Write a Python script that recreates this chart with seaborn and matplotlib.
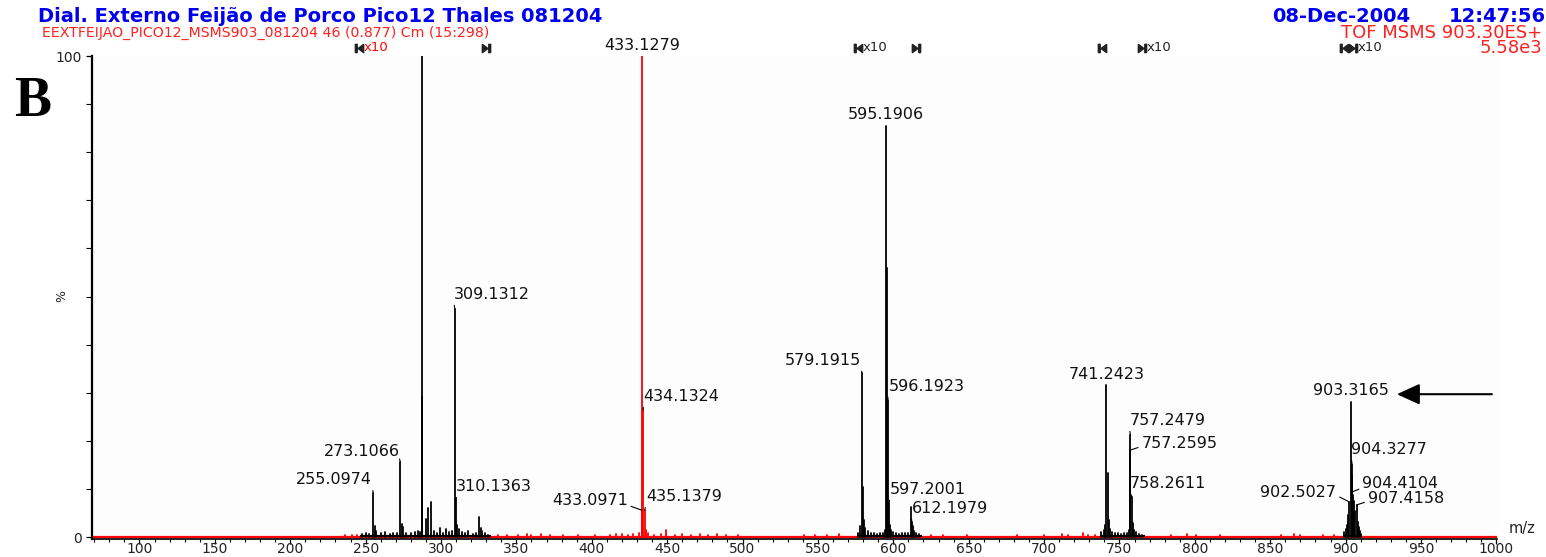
import numpy as np
import pandas as pd
import matplotlib
matplotlib.use("Agg")
import matplotlib.pyplot as plt
from matplotlib.path import Path
from matplotlib.ticker import MultipleLocator, FixedLocator
import seaborn as sns

# peaks drawn at normal gain (red)
red_mz = [236, 241, 244, 338, 344, 351, 357, 360, 366, 372, 381, 391, 402, 412, 416,
          420, 424, 427, 431, 433.0971, 433.1279, 434.1324, 435.1379, 436, 437, 441,
          446, 449, 455, 460, 466, 472, 477, 483, 489, 497, 541, 548, 556, 564, 625,
          633, 649, 682, 700, 712, 716, 726, 729, 734, 784, 795, 801, 817, 857, 866,
          870, 885, 892]
red_pct = [0.4, 0.5, 0.5, 0.4, 0.5, 0.4, 0.6, 0.5, 0.7, 0.4, 0.4, 0.5, 0.4, 0.5, 0.6,
           0.7, 0.5, 0.6, 0.8, 5.6, 100, 26.4, 5.6, 1.5, 0.8, 0.5,
           0.6, 1.5, 0.5, 0.6, 0.5, 0.7, 0.5, 0.6, 0.5, 0.4, 0.4, 0.5, 0.4, 0.6, 0.4,
           0.5, 0.4, 0.5, 0.4, 0.6, 0.5, 0.8, 0.5, 0.4, 0.4, 0.6, 0.4, 0.5, 0.4, 0.6,
           0.4, 0.5, 0.4]

# peaks inside the x10 windows (black)
blk_mz = [247.5, 250, 252, 255.0974, 256.1, 257, 260, 263, 266, 268, 271, 273.1066,
          274.1, 275.1, 277, 280, 283, 285, 286.3, 287.1, 287.6, 289.9, 291.6, 293.4,
          295.5, 297, 299.1, 301, 303, 305, 307.5, 309.1312, 310.1363, 310.8, 312, 314,
          316, 318, 321, 323.5, 325.4, 326.4, 327.5, 329, 331,
          576.5, 577.8, 579.1915, 580.19, 580.8, 581.5, 583, 585, 587, 589, 591, 593,
          594.4, 595.1906, 595.6, 596.1923, 597.2001, 597.8, 598.6, 600, 602, 604, 606,
          608, 610, 611.8, 612.1979, 612.8, 613.6, 615, 617,
          738, 739.5, 740.5, 741.2423, 742.2, 742.8, 743.6, 745, 747, 749, 751, 753,
          755, 756.4, 757.2479, 757.2595, 758.2611, 758.8, 759.6, 761, 763, 765,
          899, 900, 901, 901.8, 902.5027, 903.3165, 903.9, 904.3277, 904.4104, 905,
          905.7, 906.4, 907.4158, 908, 908.8, 909.6, 910.5]
blk_pct = [0.6, 0.8, 0.7, 9.1, 2.2, 1.2, 0.8, 1.0, 0.7, 0.9, 0.8, 15.6,
           2.8, 2.0, 0.8, 0.9, 1.1, 1.3, 1.0, 100, 29.1, 3.8, 6.0, 7.3,
           1.2, 0.9, 1.9, 0.8, 1.6, 1.0, 1.3, 47.4, 8.1, 2.5, 1.6, 1.0,
           0.8, 1.2, 0.7, 0.9, 4.2, 1.8, 1.2, 0.8, 0.5,
           0.8, 2.2, 34.1, 10.4, 3.5, 1.8, 1.2, 0.8, 0.9, 0.7, 0.8, 0.9,
           1.5, 85.4, 56.0, 28.5, 7.1, 2.5, 1.5, 1.0, 0.8, 0.7, 0.8,
           0.8, 0.9, 6.2, 3.1, 2.2, 1.2, 0.8, 0.6,
           1.0, 1.5, 2.5, 31.6, 13.3, 3.5, 1.6, 1.0, 0.8, 0.8, 0.7, 0.9,
           0.8, 1.4, 21.2, 18.1, 8.3, 3.0, 1.5, 1.0, 0.7, 0.5,
           1.0, 1.6, 2.6, 4.5, 7.3, 28.1, 13.0, 15.0, 9.4, 8.8,
           7.5, 5.5, 6.7, 3.2, 2.0, 1.2, 0.7]

x10_windows = [(246, 333), (576, 619), (737, 767), (898, 911)]

# labelled peaks: text, m/z, % and label offset (pixels) / leader anchor
labels = [
    ("255.0974", 255.0974, 9.1, -39, 6, (1, 0)),
    ("273.1066", 273.1066, 15.6, -39, 3, (1, 0)),
    ("309.1312", 309.1312, 47.4, 37, 7, (0, 0)),
    ("310.1363", 310.1363, 8.1, 37, 4, (0, 0)),
    ("433.0971", 433.0971, 5.6, -52, 2, (1, 0.2)),
    ("434.1324", 434.1324, 26.4, 38, 6, (0, 0)),
    ("435.1379", 435.1379, 5.6, 39, 6, (0, 0)),
    ("579.1915", 579.1915, 34.1, -39, 5, (1, 0)),
    ("595.1906", 595.1906, 85.4, 0, 4, None),
    ("596.1923", 596.1923, 28.5, 39, 6, (0, 0)),
    ("597.2001", 597.2001, 7.1, 39, 6, (0, 0)),
    ("612.1979", 612.1979, 3.1, 38, 6, (0, 0)),
    ("741.2423", 741.2423, 31.6, 0, 3, None),
    ("757.2479", 757.2479, 21.2, 37, 7, (0, 0)),
    ("757.2595", 757.2595, 18.1, 49, -1, (0, 0.3)),
    ("758.2611", 758.2611, 8.3, 36, 6, (0, 0)),
    ("903.3165", 903.3165, 28.1, 0, 4, None),
    ("904.3277", 904.3277, 15.0, 37, 8, (0, 0)),
    ("904.4104", 904.4104, 9.4, 48, 1, (0, 0.2)),
    ("902.5027", 902.5027, 7.3, -51, 2, (1, 0.3)),
    ("907.4158", 907.4158, 6.7, 49, -1, (0, 0.3)),
]

# x10 window markers above the plot (start / end of each window)
win_start = [245.6, 576.5, 738.4, 898.8]
win_end = [329.8, 615.0, 764.9, 904.8]
x10_after = [245.6, 576.5, 764.9, 904.8]
x10_color = ["red", "#222222", "#222222", "#222222"]

rows = []
pid = 0
for grp, mzs, pcts in (("red", red_mz, red_pct), ("black", blk_mz, blk_pct)):
    for m, p in zip(mzs, pcts):
        rows.append((pid, grp, m, 0.0))
        rows.append((pid, grp, m, p))
        pid += 1
df = pd.DataFrame(rows, columns=["peak", "grp", "mz", "pct"])

sns.set_theme(style="ticks")
plt.rcParams["font.family"] = ["DejaVu Sans"]

W, H = 1546, 557
fig = plt.figure(figsize=(W / 100, H / 100), dpi=100, facecolor="white")
ax = fig.add_axes([92 / W, 1 - 539 / H, 1405 / W, 483 / H])
ax.set_facecolor("#fcfdfc")

ax.axhline(0, color="red", lw=1.6, zorder=1)
for a, b in x10_windows:
    ax.hlines(0.25, a, b, color="black", lw=1.6, zorder=2)

sns.lineplot(data=df, x="mz", y="pct", units="peak", estimator=None, sort=False,
             hue="grp", palette={"red": "red", "black": "black"}, legend=False,
             linewidth=1.3, ax=ax, zorder=3)

ax.set_xlim(68.5, 1000.4)
ax.set_ylim(-0.4, 100)
ax.set_xlabel("")
ax.set_ylabel("")
for s in ("top", "right"):
    ax.spines[s].set_visible(False)
ax.spines["left"].set_linewidth(1.6)
ax.spines["bottom"].set_linewidth(1.2)
ax.spines["left"].set_color("black")
ax.spines["bottom"].set_color("black")

xt = np.arange(100, 1001, 50)
ax.set_xticks(xt)
ax.set_xticklabels([str(t) for t in xt], va="baseline")
ax.xaxis.set_minor_locator(MultipleLocator(10))
ax.yaxis.set_major_locator(FixedLocator([0, 100]))
ax.yaxis.set_minor_locator(MultipleLocator(10))
ax.tick_params(axis="both", which="major", direction="out", width=0.9,
               color="black", labelsize=10, labelcolor="#222222")
ax.tick_params(axis="x", which="major", length=3.6, pad=6.5)
ax.tick_params(axis="x", which="minor", direction="out", length=2.5, width=0.8, color="black")
ax.tick_params(axis="y", which="major", length=4.5, pad=3)
ax.tick_params(axis="y", which="minor", direction="out", length=4.0, width=0.8, color="black")

for txt, m, p, dx, dy, rel in labels:
    if rel is None:
        ax.annotate(txt, xy=(m, p), xytext=(dx, dy), textcoords="offset pixels",
                    ha="center", va="bottom", fontsize=11.5, color="#111111")
    else:
        ax.annotate(txt, xy=(m, p), xytext=(dx, dy), textcoords="offset pixels",
                    ha="center", va="bottom", fontsize=11.5, color="#111111",
                    arrowprops=dict(arrowstyle="-", lw=0.8, color="black",
                                    shrinkA=0, shrinkB=0, relpos=rel))

# base peak label above the frame
ax.annotate("433.1279", xy=(433.1279, 100), xytext=(0, 3), textcoords="offset pixels",
            ha="center", va="bottom", fontsize=11.5, color="#111111", annotation_clip=False)

# window start marker: bar + left triangle, end marker: right triangle + bar
bar_l = Path([(-1.0, -1), (-0.55, -1), (-0.55, 1), (-1.0, 1), (-1.0, -1)])
tri_l = Path([(1.0, 1), (-0.35, 0), (1.0, -1), (1.0, 1)])
start_marker = Path.make_compound_path(bar_l, tri_l)
bar_r = Path([(1.0, -1), (0.55, -1), (0.55, 1), (1.0, 1), (1.0, -1)])
tri_r = Path([(-1.0, 1), (0.35, 0), (-1.0, -1), (-1.0, 1)])
end_marker = Path.make_compound_path(bar_r, tri_r)

trans = ax.get_xaxis_transform()
row_y = 1 + 8 / 483
ax.plot(win_start, [row_y] * len(win_start), ls="none", marker=start_marker, ms=6,
        color="#222222", transform=trans, clip_on=False)
ax.plot(win_end, [row_y] * len(win_end), ls="none", marker=end_marker, ms=6,
        color="#222222", transform=trans, clip_on=False)
for m, c in zip(x10_after, x10_color):
    ax.annotate("x10", xy=(m, row_y), xycoords=trans, xytext=(5, 0),
                textcoords="offset pixels", ha="left", va="center", fontsize=9.5,
                color=c, annotation_clip=False)

# precursor arrow
ax.annotate("", xy=(934, 29.7), xytext=(997, 29.7),
            arrowprops=dict(arrowstyle="-|>,head_length=0.7,head_width=0.32",
                            mutation_scale=20, lw=1.5, color="black",
                            shrinkA=0, shrinkB=0), annotation_clip=False)

fig.text(38 / W, 1 - 16 / H, "Dial. Externo Feij\u00e3o de Porco Pico12 Thales 081204",
         color="#0000ee", fontsize=14, fontweight="bold", va="center", ha="left")
fig.text(42 / W, 1 - 33 / H, "EEXTFEIJAO_PICO12_MSMS903_081204 46 (0.877) Cm (15:298)",
         color="#ff2020", fontsize=10.2, va="center", ha="left")
fig.text(1410 / W, 1 - 16 / H, "08-Dec-2004", color="#0000ee", fontsize=14,
         fontweight="bold", va="center", ha="right")
fig.text(1546 / W, 1 - 16 / H, "12:47:56", color="#0000ee", fontsize=14,
         fontweight="bold", va="center", ha="right")
fig.text(1542 / W, 1 - 33 / H, "TOF MSMS 903.30ES+", color="#ff2020", fontsize=13,
         va="center", ha="right")
fig.text(1542 / W, 1 - 48 / H, "5.58e3", color="#ff2020", fontsize=13,
         va="center", ha="right")
fig.text(14 / W, 1 - 116 / H, "B", family="Liberation Serif", fontweight="bold",
         fontsize=40, va="baseline", ha="left", color="black")
fig.text(62 / W, 1 - 296 / H, "%", rotation=90, fontsize=9, va="center", ha="center",
         color="#222222")
fig.text(1522 / W, 1 - 529 / H, "m/z", fontsize=10.5, va="center", ha="center",
         color="#222222")

fig.savefig("out.png", dpi=100, facecolor="white")
